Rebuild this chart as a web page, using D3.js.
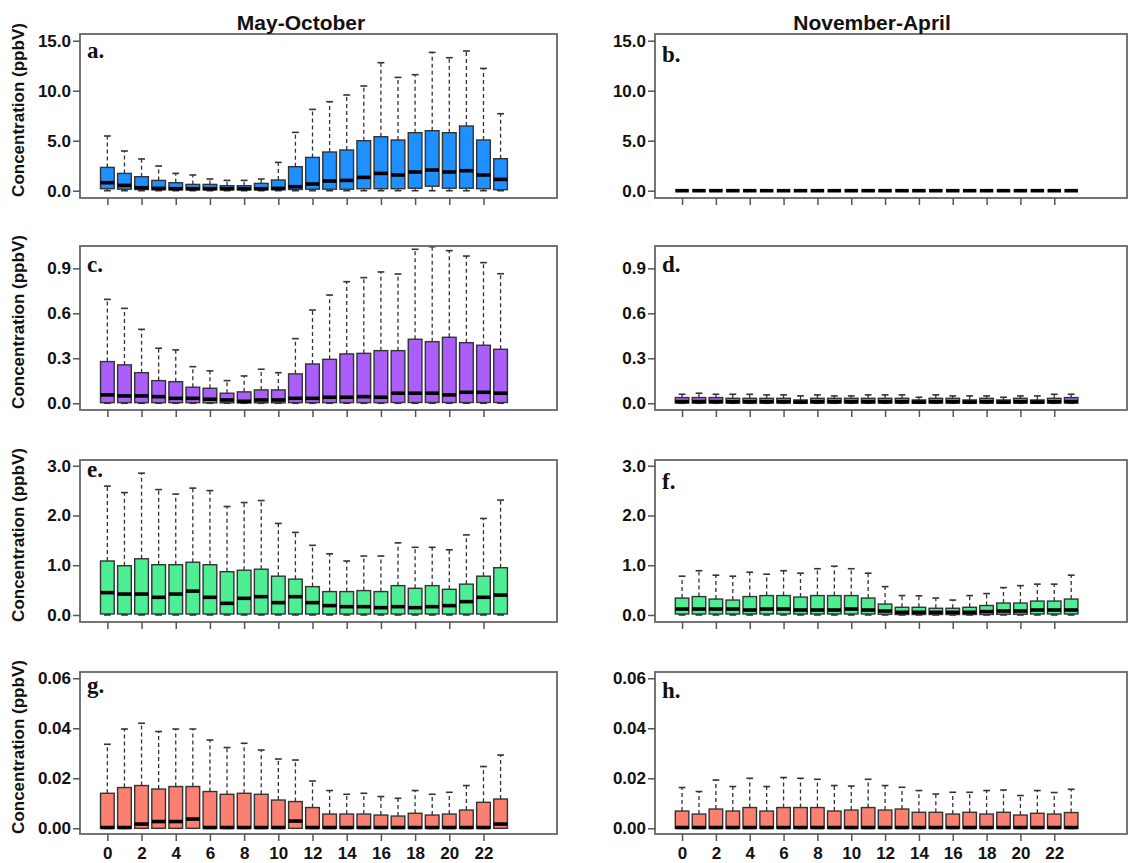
<!DOCTYPE html>
<html>
<head>
<meta charset="utf-8">
<script src="https://cdn.jsdelivr.net/npm/d3@7"></script>
<style>
body { margin: 0; background: #fff; }
text { font-family: "Liberation Sans", Arial, sans-serif; font-weight: bold; fill: #111; }
.letter { font-family: "Liberation Serif", "Times New Roman", serif; }
</style>
</head>
<body>
<div id="chart"></div>
<script>
const hours = [0,1,2,3,4,5,6,7,8,9,10,11,12,13,14,15,16,17,18,19,20,21,22,23]
const hourLabels = [0,2,4,6,8,10,12,14,16,18,20,22]
const colTitles = ['May-October', 'November-April']
const yTitle = 'Concentration (ppbV)'
const letters = ['a.', 'b.', 'c.', 'd.', 'e.', 'f.', 'g.', 'h.']
const rowTicks = [[0, 5, 10, 15], [0, 0.3, 0.6, 0.9], [0, 1, 2, 3], [0, 0.02, 0.04, 0.06]]
const rowTickFormat = ['.1f', '.1f', '.1f', '.2f']

// May-October, row 1
const a_lo  = [0,0,0,0,0,0,0,0,0,0,0,0,0,0,0,0,0,0,0,0,0,0,0,0]
const a_q1  = [0.2,0.15,0.12,0.1,0.1,0.1,0.1,0.1,0.1,0.1,0.1,0.12,0.15,0.15,0.15,0.2,0.2,0.2,0.25,0.45,0.25,0.25,0.2,0.1]
const a_med = [0.8,0.53,0.3,0.23,0.2,0.2,0.2,0.2,0.2,0.2,0.23,0.4,0.67,0.97,1.03,1.33,1.73,1.57,1.87,2.07,1.87,2.0,1.57,1.13]
const a_q3  = [2.33,1.73,1.4,1.03,0.8,0.63,0.63,0.5,0.5,0.73,1.07,2.4,3.33,3.87,4.07,5.0,5.4,5.07,5.8,6.0,5.8,6.47,5.07,3.2]
const a_hi  = [5.47,3.97,3.17,2.47,1.73,1.57,1.17,1.03,1.03,1.17,2.83,5.83,8.13,8.9,9.57,10.47,12.8,11.33,11.6,13.83,13.3,13.97,12.23,7.7]
// November-April, row 1 (all at zero)
const b_lo  = [0,0,0,0,0,0,0,0,0,0,0,0,0,0,0,0,0,0,0,0,0,0,0,0]
const b_q1  = [0,0,0,0,0,0,0,0,0,0,0,0,0,0,0,0,0,0,0,0,0,0,0,0]
const b_med = [0,0,0,0,0,0,0,0,0,0,0,0,0,0,0,0,0,0,0,0,0,0,0,0]
const b_q3  = [0,0,0,0,0,0,0,0,0,0,0,0,0,0,0,0,0,0,0,0,0,0,0,0]
const b_hi  = [0,0,0,0,0,0,0,0,0,0,0,0,0,0,0,0,0,0,0,0,0,0,0,0]
// row 2
const c_lo  = [0,0,0,0,0,0,0,0,0,0,0,0,0,0,0,0,0,0,0,0,0,0,0,0]
const c_q1  = [0.004,0.004,0.004,0.004,0.004,0.004,0.003,0.003,0.002,0.003,0.003,0.004,0.004,0.004,0.004,0.004,0.004,0.005,0.005,0.005,0.005,0.005,0.005,0.005]
const c_med = [0.056,0.049,0.049,0.044,0.033,0.033,0.027,0.022,0.013,0.022,0.022,0.033,0.033,0.04,0.04,0.044,0.04,0.067,0.067,0.067,0.056,0.073,0.073,0.067]
const c_q3  = [0.278,0.256,0.204,0.151,0.144,0.107,0.1,0.067,0.076,0.089,0.089,0.196,0.262,0.293,0.329,0.333,0.351,0.351,0.427,0.411,0.44,0.404,0.387,0.36]
const c_hi  = [0.693,0.633,0.493,0.367,0.356,0.244,0.216,0.151,0.182,0.227,0.204,0.431,0.622,0.722,0.811,0.838,0.876,0.862,1.027,1.044,1.018,0.982,0.938,0.864]
const d_lo  = [0,0,0,0,0,0,0,0,0,0,0,0,0,0,0,0,0,0,0,0,0,0,0,0]
const d_q1  = [0.002,0.002,0.002,0.002,0.002,0.002,0.002,0.001,0.002,0.002,0.002,0.002,0.002,0.002,0.001,0.002,0.002,0.001,0.002,0.001,0.002,0.001,0.002,0.002]
const d_med = [0.011,0.011,0.011,0.01,0.01,0.01,0.01,0.008,0.01,0.01,0.01,0.01,0.01,0.01,0.008,0.01,0.01,0.008,0.01,0.008,0.01,0.008,0.01,0.011]
const d_q3  = [0.038,0.038,0.038,0.033,0.033,0.033,0.033,0.022,0.033,0.033,0.033,0.033,0.033,0.033,0.022,0.033,0.033,0.022,0.033,0.022,0.033,0.022,0.033,0.038]
const d_hi  = [0.06,0.067,0.06,0.06,0.06,0.056,0.056,0.049,0.056,0.049,0.049,0.056,0.056,0.056,0.04,0.056,0.049,0.049,0.049,0.04,0.049,0.049,0.06,0.06]
// row 3
const e_lo  = [0,0,0,0,0,0,0,0,0,0,0,0,0,0,0,0,0,0,0,0,0,0,0,0]
const e_q1  = [0.02,0.02,0.02,0.02,0.02,0.02,0.02,0.02,0.02,0.02,0.02,0.02,0.02,0.02,0.02,0.02,0.02,0.02,0.02,0.02,0.02,0.02,0.02,0.02]
const e_med = [0.449,0.42,0.42,0.355,0.42,0.48,0.355,0.234,0.335,0.368,0.248,0.368,0.248,0.188,0.167,0.167,0.147,0.167,0.147,0.167,0.188,0.268,0.355,0.4]
const e_q3  = [1.085,0.99,1.13,1.01,1.01,1.06,1.01,0.87,0.9,0.92,0.78,0.72,0.57,0.47,0.47,0.49,0.47,0.59,0.536,0.59,0.516,0.62,0.78,0.95]
const e_hi  = [2.59,2.46,2.85,2.52,2.43,2.55,2.5,2.18,2.26,2.3,1.84,1.66,1.4,1.23,1.085,1.185,1.185,1.45,1.36,1.36,1.31,1.61,1.94,2.31]
const f_lo  = [0,0,0,0,0,0,0,0,0,0,0,0,0,0,0,0,0,0,0,0,0,0,0,0]
const f_q1  = [0.02,0.02,0.02,0.02,0.02,0.02,0.02,0.02,0.02,0.02,0.02,0.02,0.015,0.01,0.01,0.01,0.01,0.01,0.01,0.015,0.015,0.02,0.02,0.02]
const f_med = [0.12,0.12,0.12,0.12,0.1,0.12,0.12,0.1,0.1,0.1,0.12,0.1,0.08,0.054,0.054,0.054,0.054,0.054,0.068,0.08,0.08,0.1,0.1,0.1]
const f_q3  = [0.34,0.37,0.32,0.3,0.37,0.39,0.39,0.36,0.39,0.39,0.39,0.34,0.22,0.155,0.155,0.135,0.135,0.155,0.19,0.24,0.24,0.28,0.28,0.32]
const f_hi  = [0.78,0.89,0.8,0.78,0.86,0.82,0.89,0.84,0.93,0.98,0.93,0.84,0.57,0.39,0.385,0.34,0.3,0.39,0.43,0.55,0.59,0.62,0.62,0.8]
// row 4
const g_lo  = [0,0,0,0,0,0,0,0,0,0,0,0,0,0,0,0,0,0,0,0,0,0,0,0]
const g_q1  = [0,0,0,0,0,0,0,0,0,0,0,0,0,0,0,0,0,0,0,0,0,0,0,0]
const g_med = [0.0003,0.0003,0.0017,0.0027,0.0027,0.0037,0.0003,0.0003,0.0003,0.0003,0.0003,0.0029,0.0003,0.0003,0.0003,0.0003,0.0003,0.0003,0.0003,0.0003,0.0003,0.0003,0.0003,0.0017]
const g_q3  = [0.014,0.0163,0.0171,0.0157,0.0167,0.0167,0.0147,0.0136,0.014,0.0136,0.0113,0.0107,0.0083,0.0057,0.0057,0.0057,0.0053,0.0049,0.006,0.0053,0.0057,0.0073,0.0104,0.0117]
const g_hi  = [0.0336,0.0397,0.042,0.0387,0.0397,0.0397,0.0353,0.0323,0.034,0.0313,0.0277,0.0273,0.0189,0.0151,0.0136,0.014,0.0127,0.012,0.0151,0.0136,0.0144,0.0171,0.0247,0.0293]
const h_lo  = [0,0,0,0,0,0,0,0,0,0,0,0,0,0,0,0,0,0,0,0,0,0,0,0]
const h_q1  = [0,0,0,0,0,0,0,0,0,0,0,0,0,0,0,0,0,0,0,0,0,0,0,0]
const h_med = [0.0003,0.0003,0.0003,0.0003,0.0003,0.0003,0.0003,0.0003,0.0003,0.0003,0.0003,0.0003,0.0003,0.0003,0.0003,0.0003,0.0003,0.0003,0.0003,0.0003,0.0003,0.0003,0.0003,0.0003]
const h_q3  = [0.0069,0.0057,0.0077,0.0069,0.0083,0.0069,0.0083,0.0083,0.0083,0.0069,0.0073,0.0083,0.0073,0.0077,0.0064,0.0064,0.0057,0.0064,0.0057,0.0064,0.0053,0.006,0.0057,0.0063]
const h_hi  = [0.0163,0.0147,0.0193,0.0167,0.02,0.0167,0.0203,0.02,0.0196,0.0171,0.0169,0.0196,0.0171,0.0164,0.0151,0.0137,0.0144,0.0144,0.0151,0.0153,0.0131,0.0151,0.0143,0.0156]

const series = [
    [a_lo, a_q1, a_med, a_q3, a_hi], [b_lo, b_q1, b_med, b_q3, b_hi],
    [c_lo, c_q1, c_med, c_q3, c_hi], [d_lo, d_q1, d_med, d_q3, d_hi],
    [e_lo, e_q1, e_med, e_q3, e_hi], [f_lo, f_q1, f_med, f_q3, f_hi],
    [g_lo, g_q1, g_med, g_q3, g_hi], [h_lo, h_q1, h_med, h_q3, h_hi],
]

// layout
const width = 1133, height = 863
const colX = [[80, 557], [655, 1127]]
const rowY = [[34, 198], [246, 410], [460, 622], [672, 834]]
const rowDomain = [[-0.73, 15.67], [-0.045, 1.049], [-0.141, 3.115], [-0.00228, 0.0625]]
const xDomain = [-1.6, 26.3]
const letterDy = [24, 28, 26, 26, 17, 29, 21, 26]
const fills = ['#1E90FF', '#AB5EFA', '#4EEE94', '#FA8072']

const svg = d3.select('#chart').append('svg').attr('width', width).attr('height', height)

const draw_panel = (idx) => {
    const row = Math.floor(idx / 2), col = idx % 2
    const [lo, q1, med, q3, hi] = series[idx]
    const data = hours.map((h, i) => ({h: h, lo: lo[i], q1: q1[i], med: med[i], q3: q3[i], hi: hi[i]}))

    const x = d3.scaleLinear().domain(xDomain).range(colX[col])
    const y = d3.scaleLinear().domain(rowDomain[row]).range([rowY[row][1], rowY[row][0]])
    const bw = (x(1) - x(0)) * 0.8

    const g = svg.append('g')

    // whiskers
    g.selectAll('.wu').data(data).enter().append('line')
        .attr('x1', d => x(d.h)).attr('x2', d => x(d.h))
        .attr('y1', d => y(d.q3)).attr('y2', d => y(d.hi))
        .attr('stroke', '#333').attr('stroke-width', 1.3).attr('stroke-dasharray', '4,3')
    g.selectAll('.wl').data(data).enter().append('line')
        .attr('x1', d => x(d.h)).attr('x2', d => x(d.h))
        .attr('y1', d => y(d.q1)).attr('y2', d => y(d.lo))
        .attr('stroke', '#333').attr('stroke-width', 1.3).attr('stroke-dasharray', '4,3')
    // staples
    ;['hi', 'lo'].forEach(k => {
        g.selectAll('.st' + k).data(data).enter().append('line')
            .attr('x1', d => x(d.h) - bw / 4).attr('x2', d => x(d.h) + bw / 4)
            .attr('y1', d => y(d[k])).attr('y2', d => y(d[k]))
            .attr('stroke', '#333').attr('stroke-width', 1.6)
    })

    // boxes
    g.selectAll('rect.box').data(data).enter().append('rect')
        .attr('class', 'box')
        .attr('x', d => x(d.h) - bw / 2).attr('width', bw)
        .attr('y', d => y(d.q3)).attr('height', d => y(d.q1) - y(d.q3))
        .attr('fill', fills[row]).attr('stroke', '#333').attr('stroke-width', 1.4)

    // medians
    g.selectAll('.med').data(data).enter().append('line')
        .attr('x1', d => x(d.h) - bw / 2).attr('x2', d => x(d.h) + bw / 2)
        .attr('y1', d => y(d.med)).attr('y2', d => y(d.med))
        .attr('stroke', '#000').attr('stroke-width', 3.6)

    // frame
    g.append('rect')
        .attr('x', colX[col][0]).attr('y', rowY[row][0])
        .attr('width', colX[col][1] - colX[col][0]).attr('height', rowY[row][1] - rowY[row][0])
        .attr('fill', 'none').attr('stroke', '#666').attr('stroke-width', 1.8)

    // y axis
    const ya = g.append('g').attr('transform', 'translate(' + colX[col][0] + ',0)')
        .call(d3.axisLeft(y).tickValues(rowTicks[row]).tickFormat(d3.format(rowTickFormat[row]))
            .tickSize(7).tickSizeOuter(0).tickPadding(2))
    ya.select('.domain').remove()
    ya.selectAll('line').attr('stroke', '#555').attr('stroke-width', 1.5)
    ya.selectAll('text').attr('font-size', 17).attr('font-family', null)

    // x axis, labels only in the bottom row
    const xa = g.append('g').attr('transform', 'translate(0,' + rowY[row][1] + ')')
        .call(d3.axisBottom(x).tickValues(hourLabels).tickFormat(row == 3 ? d3.format('d') : '')
            .tickSize(7).tickSizeOuter(0).tickPadding(6))
    xa.select('.domain').remove()
    xa.selectAll('line').attr('stroke', '#555').attr('stroke-width', 1.5)
    xa.selectAll('text').attr('font-size', 17).attr('font-family', null)

    // panel letter
    g.append('text').attr('class', 'letter')
        .attr('x', colX[col][0] + 7).attr('y', rowY[row][0] + letterDy[idx])
        .attr('font-size', 23)
        .text(letters[idx])

    if (col == 0) {
        const cy = (rowY[row][0] + rowY[row][1]) / 2 - 6
        g.append('text')
            .attr('transform', 'translate(24,' + cy + ') rotate(-90)')
            .attr('text-anchor', 'middle')
            .attr('font-size', 17)
            .text(yTitle)
    }
}

letters.forEach((l, i) => draw_panel(i))

svg.selectAll('.coltitle').data(colTitles).enter().append('text')
    .attr('x', (d, i) => [301, 872][i]).attr('y', 30)
    .attr('text-anchor', 'middle').attr('font-size', 21)
    .text(d => d)
</script>
</body>
</html>
